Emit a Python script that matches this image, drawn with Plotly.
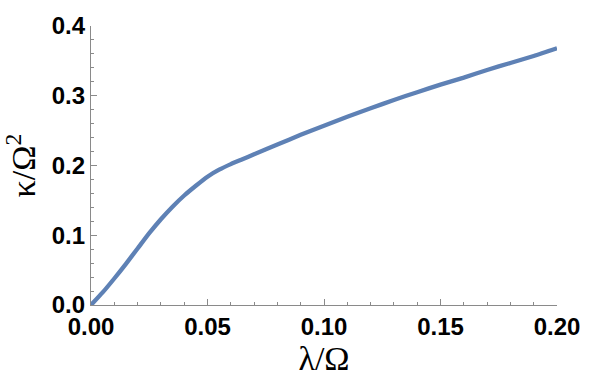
import plotly.graph_objects as go

x_vals = [0.0, 0.005, 0.01, 0.015, 0.02, 0.025, 0.03, 0.035, 0.04, 0.045, 0.05,
          0.055, 0.06, 0.065, 0.07, 0.08, 0.09, 0.10, 0.11, 0.12, 0.13, 0.14,
          0.15, 0.16, 0.17, 0.18, 0.19, 0.20]
y_vals = [0.0, 0.018, 0.038, 0.059, 0.081, 0.103, 0.123, 0.141, 0.157, 0.171, 0.184,
          0.194, 0.202, 0.209, 0.216, 0.230, 0.244, 0.257, 0.270, 0.282, 0.294, 0.305,
          0.316, 0.326, 0.337, 0.347, 0.357, 0.368]

x_ticks = [0.0, 0.05, 0.10, 0.15, 0.20]
x_ticklabels = ["0.00", "0.05", "0.10", "0.15", "0.20"]
y_ticks = [0.0, 0.1, 0.2, 0.3, 0.4]
y_ticklabels = ["0.0", "0.1", "0.2", "0.3", "0.4"]

axis_color = "#8a8a8a"
tick_font = dict(family="Liberation Sans, Arial, sans-serif", size=24, color="black", weight="bold")
title_font = dict(family="Times New Roman, Liberation Serif, serif", size=34, color="black")

fig = go.Figure()
fig.add_trace(go.Scatter(x=x_vals, y=y_vals, mode="lines",
                         line=dict(color="#5E81B5", width=4.3, shape="spline", smoothing=0.6),
                         cliponaxis=False, showlegend=False))

fig.update_layout(
    width=592, height=380,
    margin=dict(l=91, r=29, t=16, b=74),
    paper_bgcolor="white", plot_bgcolor="white",
    xaxis=dict(
        range=[0, 0.2], showgrid=False, zeroline=False,
        showline=True, linecolor=axis_color, linewidth=1.3,
        tickvals=x_ticks, ticktext=x_ticklabels,
        ticks="inside", ticklen=6, tickcolor=axis_color, tickwidth=1,
        tickfont=tick_font,
        minor=dict(dtick=0.01, ticks="inside", ticklen=3, tickcolor=axis_color, tickwidth=1),
        title=dict(text="λ/Ω", font=title_font, standoff=4),
    ),
    yaxis=dict(
        range=[0, 0.4], showgrid=False, zeroline=False,
        showline=True, linecolor=axis_color, linewidth=1.3,
        tickvals=y_ticks, ticktext=y_ticklabels,
        ticks="inside", ticklen=6, tickcolor=axis_color, tickwidth=1,
        tickfont=tick_font,
        minor=dict(dtick=0.02, ticks="inside", ticklen=3, tickcolor=axis_color, tickwidth=1),
        title=dict(text="κ/Ω<sup>2</sup>", font=title_font, standoff=6),
    ),
)

fig.write_html("out.html")
